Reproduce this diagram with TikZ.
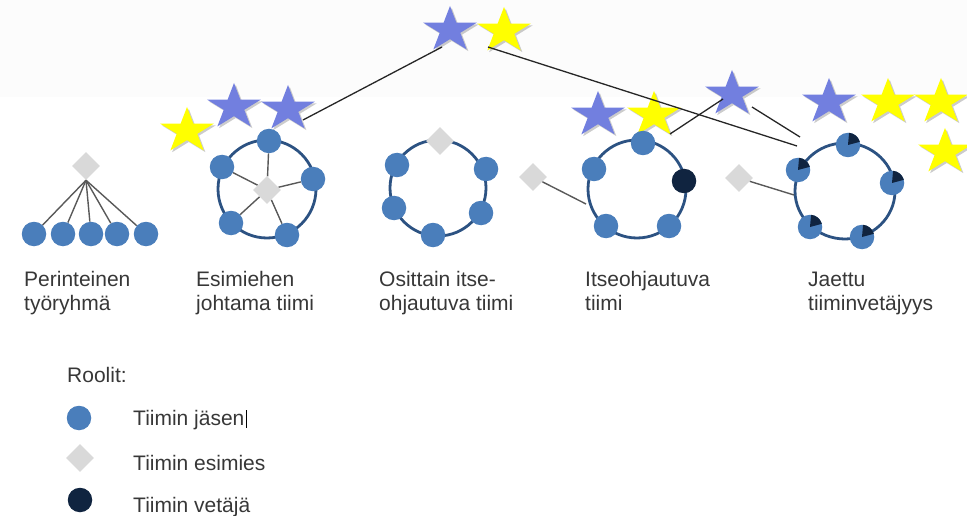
\documentclass[tikz,border=0pt]{standalone}
\usepackage{fontspec}
\setmainfont{Liberation Sans}
\usetikzlibrary{shapes.geometric}

\definecolor{memberc}{RGB}{74,126,187}
\definecolor{ringc}{RGB}{44,82,130}
\definecolor{leadc}{RGB}{16,36,64}
\definecolor{bossc}{RGB}{217,217,217}
\definecolor{starblue}{RGB}{114,127,223}
\definecolor{staryellow}{RGB}{255,255,0}
\definecolor{txtc}{RGB}{55,55,55}
\definecolor{bandc}{RGB}{252,252,252}

\pgfdeclarelayer{back}
\pgfsetlayers{back,main}

\tikzset{
  member/.style={circle, fill=memberc, minimum size=24.5pt, inner sep=0pt},
  leader/.style={circle, fill=leadc, minimum size=24.5pt, inner sep=0pt},
  boss/.style={diamond, fill=bossc, minimum size=28pt, inner sep=0pt},
  ring/.style={draw=ringc, line width=2.8pt},
  spoke/.style={draw=black!65, line width=1.4pt},
  link/.style={draw=black!85, line width=1.3pt},
  lbl/.style={anchor=base west, inner sep=0pt, text=txtc, font=\fontsize{21}{26}\selectfont},
}

% five-pointed star centred at (#1,#2), filled with #3, centre named #4
\newcommand\teamstar[4]{%
  \begin{scope}[shift={(#1,#2)}, xscale=1.18, yscale=-1]
    \fill[black, opacity=.2, shift={(1.5,-1.8)}]
      (90:24) -- (126:9.17) -- (162:24) -- (198:9.17) -- (234:24) -- (270:9.17)
      -- (306:24) -- (342:9.17) -- (18:24) -- (54:9.17) -- cycle;
    \fill[#3]
      (90:24) -- (126:9.17) -- (162:24) -- (198:9.17) -- (234:24) -- (270:9.17)
      -- (306:24) -- (342:9.17) -- (18:24) -- (54:9.17) -- cycle;
  \end{scope}
  \coordinate (#4) at (#1,#2);}

% small leadership share drawn into a member circle (upper right sector)
\newcommand\share[1]{%
  \begin{scope}[shift={(#1.center)}, yscale=-1]
    \fill[leadc] (0,0) -- (15:12.25) arc[start angle=15, end angle=85, radius=12.25] -- cycle;
  \end{scope}}

\begin{document}
\begin{tikzpicture}[x=1pt, y=-1pt]
\useasboundingbox (0,0) rectangle (967,516);
\fill[bandc] (0,0) rectangle (967,97);

% ---------- stars ----------
\teamstar{450}{30}{starblue}{sTopB}
\teamstar{504}{31}{staryellow}{sTopY}

\teamstar{187}{131}{staryellow}{sEY}
\teamstar{234}{107}{starblue}{sEB1}
\teamstar{288}{109}{starblue}{sEB2}

\teamstar{598}{115}{starblue}{sIB}
\teamstar{654}{115}{staryellow}{sIY}
\teamstar{732}{94}{starblue}{sIH}

\teamstar{829}{102}{starblue}{sJB}
\teamstar{888}{102}{staryellow}{sJY1}
\teamstar{941}{102}{staryellow}{sJY2}
\teamstar{945}{152}{staryellow}{sJY3}

% ---------- Perinteinen työryhmä ----------
\node[boss] (d1) at (86,166) {};
\node[member] (p1) at (34,234) {};
\node[member] (p2) at (63,234) {};
\node[member] (p3) at (91,234) {};
\node[member] (p4) at (117,234) {};
\node[member] (p5) at (146,234) {};
\begin{pgfonlayer}{back}
  \foreach \m in {p1,p2,p3,p4,p5} \draw[spoke] (d1.south) -- (\m);
\end{pgfonlayer}

% ---------- Esimiehen johtama tiimi ----------
\draw[ring] (267,189) circle[radius=49];
\node[boss] (d2) at (267,190) {};
\node[member] (e1) at (269,141) {};
\node[member] (e2) at (222,167) {};
\node[member] (e3) at (313,179) {};
\node[member] (e4) at (231,223) {};
\node[member] (e5) at (287,235) {};
\begin{pgfonlayer}{back}
  \foreach \m in {e1,e2,e3,e4,e5} \draw[spoke] (d2) -- (\m);
\end{pgfonlayer}

% ---------- Osittain itseohjautuva tiimi ----------
\draw[ring] (438,188) circle[radius=48];
\node[boss] (d3) at (440,141) {};
\node[member] (o1) at (397,165) {};
\node[member] (o2) at (486,169) {};
\node[member] (o3) at (394,208) {};
\node[member] (o4) at (481,213) {};
\node[member] (o5) at (433,235) {};

% ---------- Itseohjautuva tiimi ----------
\draw[ring] (637,189) circle[radius=49];
\node[member] (i1) at (643,143) {};
\node[member] (i2) at (594,169) {};
\node[leader] (i3) at (684,181) {};
\node[member] (i4) at (606,226) {};
\node[member] (i5) at (669,226) {};
\node[boss] (d4) at (533,177) {};
\coordinate (r4) at (586,204);
\draw[spoke] (d4) -- (r4);

% ---------- Jaettu tiiminvetäjyys ----------
\draw[ring] (845,191) ellipse[x radius=50, y radius=48];
\node[member] (j1) at (848,145) {};
\node[member] (j2) at (798,170) {};
\node[member] (j3) at (892,183) {};
\node[member] (j4) at (810,227) {};
\node[member] (j5) at (862,237) {};
\foreach \m in {j1,j2,j3,j4,j5} {\share{\m}}
\node[boss] (d5) at (739,178) {};
\coordinate (r5) at (794,195);
\draw[spoke] (d5) -- (r5);

% ---------- links between the stars ----------
\coordinate (l1a) at (442,47);  \coordinate (l1b) at (303,120);
\coordinate (l2a) at (488,47);  \coordinate (l2b) at (797,146);
\coordinate (l3a) at (670,134); \coordinate (l3b) at (723,99);
\coordinate (l4a) at (752,107); \coordinate (l4b) at (800,137);
\draw[link] (l1a) -- (l1b);
\draw[link] (l2a) -- (l2b);
\draw[link] (l3a) -- (l3b);
\draw[link] (l4a) -- (l4b);

% ---------- team labels ----------
\node[lbl] (t1a) at (24,286) {Perinteinen};
\node[lbl] (t1b) at (24,310) {työryhmä};
\node[lbl] (t2a) at (196,286) {Esimiehen};
\node[lbl] (t2b) at (196,310) {johtama tiimi};
\node[lbl] (t3a) at (379,286) {Osittain itse-};
\node[lbl] (t3b) at (379,310) {ohjautuva tiimi};
\node[lbl] (t4a) at (585,286) {Itseohjautuva};
\node[lbl] (t4b) at (585,310) {tiimi};
\node[lbl] (t5a) at (808,286) {Jaettu};
\node[lbl] (t5b) at (808,310) {tiiminvetäjyys};

% ---------- legend ----------
\node[lbl] (roles) at (67,382) {Roolit:};
\node[member] (km) at (79,418) {};
\node[lbl] (kmt) at (133,425) {Tiimin jäsen};
\draw[black, line width=1pt] ([xshift=1.5pt]kmt.base east) ++(0,-15) -- ++(0,18);
\node[boss] (kb) at (80,458) {};
\node[lbl] (kbt) at (133,470) {Tiimin esimies};
\node[leader] (kl) at (80,500) {};
\node[lbl] (klt) at (133,512) {Tiimin vetäjä};
\end{tikzpicture}
\end{document}
